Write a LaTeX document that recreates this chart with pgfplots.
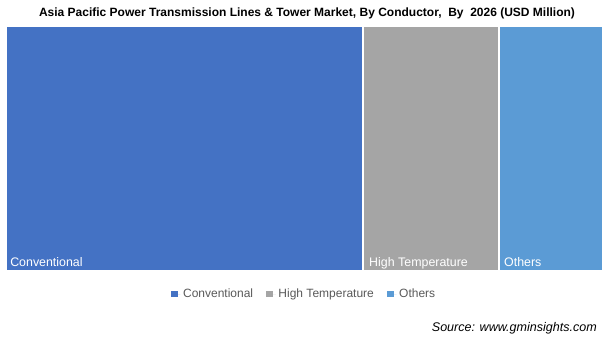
\documentclass[border=0pt]{standalone}
\usepackage{pgfplots}
\pgfplotsset{compat=1.18}
\usepackage{fontspec}
\setmainfont{Liberation Sans}
\definecolor{cConv}{HTML}{4472C4}
\definecolor{cHigh}{HTML}{A5A5A5}
\definecolor{cOth}{HTML}{5B9BD5}
\definecolor{cLeg}{HTML}{595959}
\begin{document}
\begin{tikzpicture}[x=0.75pt,y=0.75pt]
\path[use as bounding box] (0,0) rectangle (613,347);
\node[font=\bfseries\fontsize{9}{10}\selectfont, anchor=center] at (307,334) {Asia Pacific Power Transmission Lines \& Tower Market, By Conductor,\ \ By\ \ 2026 (USD Million)};
\begin{axis}[
  at={(4.5pt,57pt)}, anchor=south west,
  scale only axis, width=447.75pt, height=183.75pt,
  xmin=0, xmax=100, ymin=0, ymax=1,
  axis lines=none, ticks=none,
  clip=false,
  legend style={at={(0.5,-0.094)}, anchor=center, legend columns=-1, draw=none, fill=none,
    text=cLeg, font=\fontsize{9}{10}\selectfont, /tikz/every even column/.append style={column sep=8pt}},
  legend image code/.code={\fill[#1, draw=none] (0pt,-2.6pt) rectangle (5.2pt,2.6pt); \path[draw=none] (0pt,0pt) -- (7pt,0pt);},
]
\addplot[ybar interval, fill=cConv, draw=white, line width=1.5pt] coordinates {(0,1) (59.8,1)};
\addlegendentry{Conventional}
\addplot[ybar interval, fill=cHigh, draw=white, line width=1.5pt] coordinates {(59.8,1) (82.6,1)};
\addlegendentry{High Temperature}
\addplot[ybar interval, fill=cOth, draw=white, line width=1.5pt] coordinates {(82.6,1) (100,1)};
\addlegendentry{Others}
\node[anchor=base west, inner sep=0pt, text=white, font=\fontsize{9.3}{10}\selectfont] at (axis cs:0.67,0.0) [yshift=3.5pt] {Conventional};
\node[anchor=base west, inner sep=0pt, text=white, font=\fontsize{9.3}{10}\selectfont] at (axis cs:60.8,0.0) [yshift=3.5pt] {High Temperature};
\node[anchor=base west, inner sep=0pt, text=white, font=\fontsize{9.3}{10}\selectfont] at (axis cs:83.4,0.0) [yshift=3.5pt] {Others};
\end{axis}
\node[anchor=east, inner sep=0pt, font=\itshape\fontsize{9.4}{10}\selectfont] at (597,19) {Source: www.gminsights.com};
\end{tikzpicture}
\end{document}
